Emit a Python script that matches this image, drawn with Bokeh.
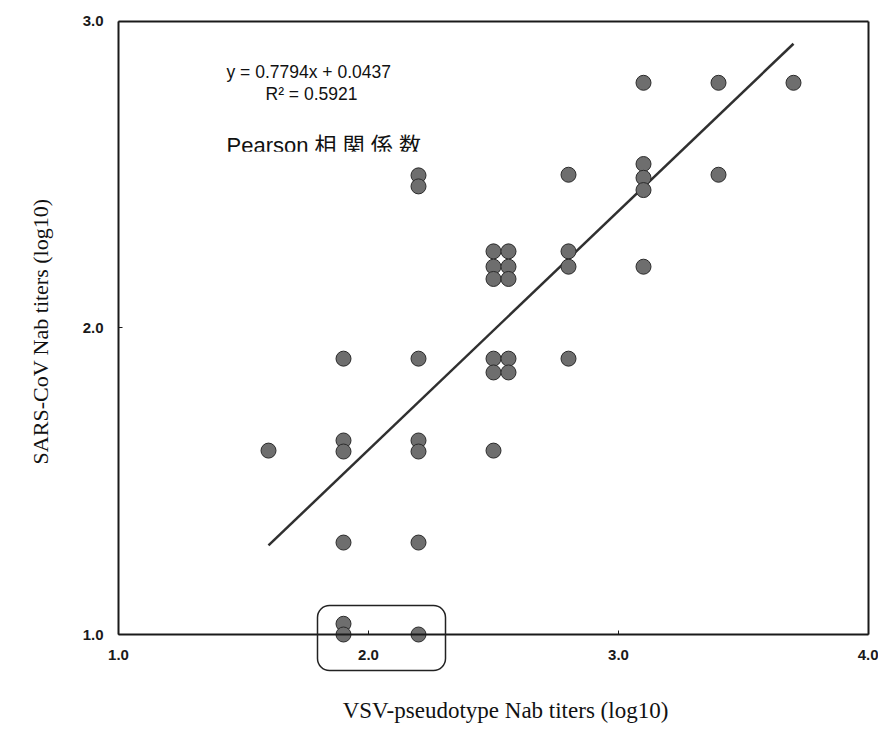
import math
from bokeh.plotting import figure
from bokeh.models import Range1d, LinearAxis, FixedTicker, Label, BoxAnnotation, NumeralTickFormatter
from bokeh.embed import file_html
from bokeh.resources import INLINE

# ---- data (log10 titers) ----
vsv_titer = [1.60,
             1.90, 1.90, 1.90, 1.90, 1.90, 1.90,
             2.20, 2.20, 2.20, 2.20, 2.20, 2.20, 2.20,
             2.50, 2.50, 2.50, 2.56, 2.56, 2.56,
             2.50, 2.50, 2.56, 2.56,
             2.50,
             2.80, 2.80, 2.80, 2.80,
             3.10, 3.10, 3.10, 3.10, 3.10,
             3.40, 3.40,
             3.70]
sars_titer = [1.60,
              1.90, 1.633, 1.597, 1.30, 1.035, 1.00,
              2.498, 2.462, 1.90, 1.633, 1.597, 1.30, 1.00,
              2.25, 2.20, 2.16, 2.25, 2.20, 2.16,
              1.90, 1.855, 1.90, 1.855,
              1.60,
              2.50, 2.25, 2.20, 1.90,
              2.80, 2.535, 2.49, 2.45, 2.20,
              2.80, 2.50,
              2.80]
x_ticks = [1.0, 2.0, 3.0, 4.0]
y_ticks = [1.0, 2.0, 3.0]
fit_slope = 0.7794
fit_intercept = 0.0437
r_squared = 0.5921
x_label = "VSV-pseudotype Nab titers (log10)"
y_label = "SARS-CoV Nab titers (log10)"
note_text = "Pearson 相 関 係 数"

fit_x = [min(vsv_titer), max(vsv_titer)]
fit_y = [fit_slope * v + fit_intercept for v in fit_x]

x_lo, x_hi = x_ticks[0], x_ticks[-1]
y_lo, y_hi = y_ticks[0], y_ticks[-1]

p = figure(width=878, height=746,
           x_range=Range1d(0.528, 4.04), y_range=Range1d(0.6346, 3.0685),
           output_backend="svg", toolbar_location=None,
           x_axis_location=None, y_axis_location=None,
           min_border=0, min_border_left=0, min_border_right=0,
           min_border_top=0, min_border_bottom=0)
p.xgrid.visible = False
p.ygrid.visible = False
p.outline_line_color = None
p.background_fill_color = "white"
p.border_fill_color = "white"

axis_color = "#1a1a1a"

xaxis = LinearAxis(fixed_location=y_lo, bounds=(x_lo, x_hi), ticker=FixedTicker(ticks=x_ticks),
                   formatter=NumeralTickFormatter(format="0.0"))
yaxis = LinearAxis(fixed_location=x_lo, bounds=(y_lo, y_hi), ticker=FixedTicker(ticks=y_ticks),
                   formatter=NumeralTickFormatter(format="0.0"))
for ax in (xaxis, yaxis):
    ax.axis_line_width = 2
    ax.axis_line_color = axis_color
    ax.major_tick_in = 4
    ax.major_tick_out = 0
    ax.major_tick_line_color = axis_color
    ax.minor_tick_line_color = None
    ax.major_label_text_font = "Liberation Sans"
    ax.major_label_text_font_size = "15px"
    ax.major_label_text_font_style = "bold"
    ax.major_label_text_color = "#1a1a1a"
xaxis.major_label_standoff = 15
yaxis.major_label_standoff = 15
p.add_layout(xaxis, "below")
p.add_layout(yaxis, "left")

top_axis = LinearAxis(fixed_location=y_hi, bounds=(x_lo, x_hi), ticker=FixedTicker(ticks=[]))
right_axis = LinearAxis(fixed_location=x_hi, bounds=(y_lo, y_hi), ticker=FixedTicker(ticks=[]))
for ax in (top_axis, right_axis):
    ax.axis_line_width = 2
    ax.axis_line_color = axis_color
    ax.major_tick_in = 0
    ax.major_tick_out = 0
    ax.major_tick_line_color = None
    ax.minor_tick_line_color = None
    ax.major_label_text_font_size = "0px"
p.add_layout(top_axis, "above")
p.add_layout(right_axis, "right")

p.line(fit_x, fit_y, line_width=2.5, line_color="#303030")
p.scatter(vsv_titer, sars_titer, size=15, fill_color="#6e6e6e", line_color="#2b2b2b", line_width=1)

# axis titles
p.add_layout(Label(x=2.548, y=0.752, text=x_label, text_font="Liberation Serif",
                   text_font_size="23px", text_align="center", text_baseline="middle",
                   text_color="#111111"))
p.add_layout(Label(x=0.688, y=1.9886, text=y_label, text_font="Liberation Serif",
                   text_font_size="22px", text_align="center", text_baseline="middle",
                   angle=math.pi / 2, text_color="#111111"))

# regression annotation
p.add_layout(Label(x=1.432, y=2.8336, text=f"y = {fit_slope}x + {fit_intercept}",
                   text_font="Liberation Sans", text_font_size="17.5px",
                   text_baseline="middle", text_color="#111111"))
p.add_layout(Label(x=1.588, y=2.7635, text=f"R\u00b2 = {r_squared}",
                   text_font="Liberation Sans", text_font_size="17.5px",
                   text_baseline="middle", text_color="#111111"))
p.add_layout(Label(x=1.432, y=2.6346, text=note_text,
                   text_font="'Liberation Sans', 'Noto Sans CJK JP'", text_font_size="22px",
                   text_baseline="top", text_color="#111111"))
# the scanned note is cut off at its lower half
p.add_layout(BoxAnnotation(left=1.33, right=2.26, bottom=2.530, top=2.575,
                           fill_color="white", fill_alpha=1.0, line_color=None))

# rounded frame around the lowest titers
p.add_layout(BoxAnnotation(left=1.796, right=2.308, bottom=0.8826, top=1.0946,
                           fill_color=None, line_color="#222222", line_alpha=1.0,
                           line_width=1.5, border_radius=12))

open("out.html", "w").write(file_html(p, INLINE))
